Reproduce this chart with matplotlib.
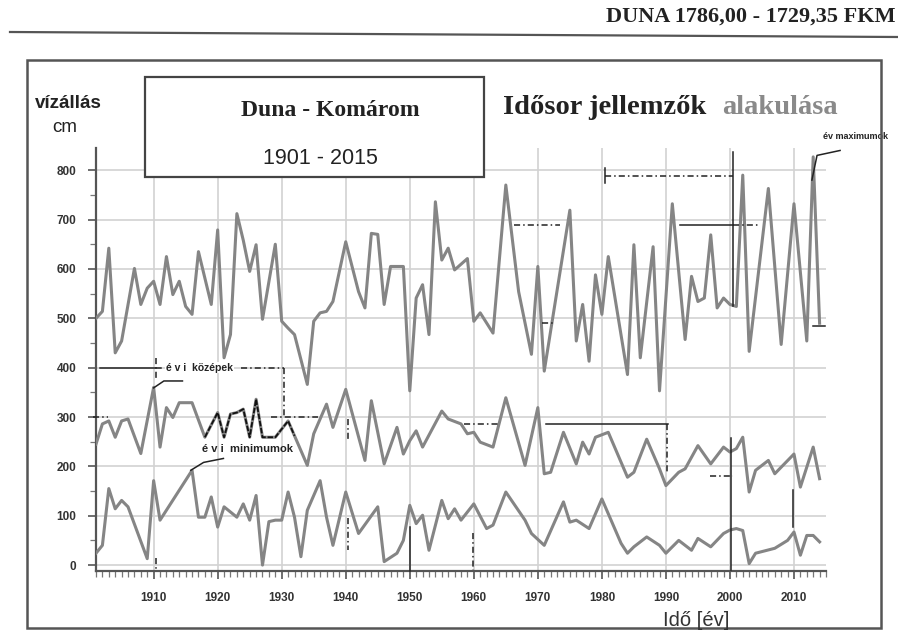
import matplotlib
matplotlib.use("Agg")
import matplotlib.pyplot as plt
from matplotlib.ticker import MultipleLocator
from matplotlib.lines import Line2D
from matplotlib.patches import Rectangle

# ---------------- data ----------------
max_years = [1901, 1902, 1903, 1904, 1905, 1907, 1908, 1909, 1910, 1911, 1912, 1913, 1914, 1915,
             1916, 1917, 1919, 1920, 1921, 1922, 1923, 1924, 1925, 1926, 1927, 1929, 1930, 1931,
             1932, 1934, 1935, 1936, 1937, 1938, 1940, 1942, 1943, 1944, 1945, 1946, 1947, 1949,
             1950, 1951, 1952, 1953, 1954, 1955, 1956, 1957, 1959, 1960, 1961, 1963, 1965, 1967,
             1969, 1970, 1971, 1975, 1976, 1977, 1978, 1979, 1980, 1981, 1984, 1985, 1986, 1988,
             1989, 1991, 1993, 1994, 1995, 1996, 1997, 1998, 1999, 2000, 2001, 2002, 2003, 2006,
             2008, 2010, 2012, 2013, 2014]
max_vals = [500, 514, 642, 430, 454, 601, 528, 561, 575, 528, 625, 548, 575, 524,
            508, 635, 528, 679, 420, 467, 712, 658, 595, 649, 498, 650, 494, 480,
            467, 366, 494, 511, 514, 534, 655, 554, 521, 672, 670, 528, 605, 605,
            353, 541, 568, 467, 736, 618, 642, 598, 621, 494, 511, 470, 770, 554,
            427, 605, 393, 719, 454, 528, 413, 588, 508, 625, 386, 649, 420, 645,
            353, 732, 457, 585, 534, 541, 669, 521, 541, 528, 524, 790, 433, 763,
            447, 732, 454, 827, 490]

mean_years = [1901, 1902, 1903, 1904, 1905, 1906, 1908, 1910, 1911, 1912, 1913, 1914, 1916, 1918,
              1920, 1921, 1922, 1923, 1924, 1925, 1926, 1927, 1929, 1931, 1932, 1934, 1935, 1937,
              1938, 1940, 1943, 1944, 1946, 1948, 1949, 1950, 1951, 1952, 1955, 1956, 1958, 1959,
              1960, 1961, 1963, 1965, 1968, 1970, 1971, 1972, 1974, 1976, 1977, 1978, 1979, 1981,
              1984, 1985, 1987, 1989, 1990, 1992, 1993, 1995, 1997, 1999, 2000, 2001, 2002, 2003,
              2004, 2006, 2007, 2010, 2011, 2013, 2014]
mean_vals = [245, 286, 292, 259, 292, 296, 226, 360, 239, 319, 299, 329, 329, 259,
             309, 259, 306, 309, 316, 259, 336, 259, 259, 292, 262, 202, 266, 326,
             279, 356, 212, 333, 205, 279, 225, 252, 272, 239, 312, 296, 286, 266,
             269, 249, 239, 339, 202, 319, 185, 188, 269, 205, 249, 225, 259, 269,
             178, 188, 255, 195, 161, 188, 195, 242, 205, 239, 229, 236, 259, 148,
             192, 212, 185, 225, 158, 239, 175]

min_years = [1901, 1902, 1903, 1904, 1905, 1906, 1909, 1910, 1911, 1916, 1917, 1918, 1919, 1920,
             1921, 1923, 1924, 1925, 1926, 1927, 1928, 1929, 1930, 1931, 1932, 1933, 1934, 1936,
             1937, 1938, 1940, 1942, 1945, 1946, 1948, 1949, 1950, 1951, 1952, 1953, 1955, 1956,
             1957, 1958, 1960, 1962, 1963, 1965, 1968, 1969, 1971, 1974, 1975, 1976, 1978, 1980,
             1983, 1984, 1985, 1987, 1989, 1990, 1992, 1994, 1995, 1997, 1999, 2000, 2001, 2002,
             2003, 2004, 2007, 2009, 2010, 2011, 2012, 2013, 2014]
min_vals = [24, 40, 155, 114, 131, 118, 13, 171, 91, 192, 97, 97, 138, 77,
            118, 97, 124, 91, 141, 0, 88, 91, 91, 148, 97, 17, 111, 171,
            97, 40, 148, 64, 118, 7, 24, 50, 121, 84, 101, 30, 131, 94,
            114, 91, 124, 74, 81, 148, 91, 64, 40, 128, 87, 91, 74, 134,
            44, 24, 37, 57, 40, 24, 50, 30, 54, 37, 64, 71, 74, 70,
            3, 24, 34, 50, 67, 20, 60, 60, 47]

x_ticks = [1910, 1920, 1930, 1940, 1950, 1960, 1970, 1980, 1990, 2000, 2010]
x_tick_labels = ["1910", "1920", "1930", "1940", "1950", "1960", "1970", "1980", "1990", "2000", "2010"]
y_ticks = [0, 100, 200, 300, 400, 500, 600, 700, 800]

# years where the mean curve is redrawn dark on the original
mean_dark_span = (1918, 1932)

# annotation guide lines drawn on the original (x in years, y in cm)
annot_solid = [
    ([1901.7, 1911.1], [400, 400]),
    ([1910, 1911.6, 1914.5], [359, 373, 373]),
    ([1915.8, 1917.8, 1920.9], [192, 208, 216]),
    ([2012.8, 2013.6, 2017.2], [780, 830, 840]),
    ([2000.5, 2000.5], [836, 524]),
    ([1992.2, 2000.5], [690, 690]),
    ([1971.2, 1990.3], [286, 286]),
    ([2000.2, 2000.2], [258, -10]),
    ([2009.8, 2009.8], [153, 78]),
    ([1950.1, 1950.1], [77, -12]),
    ([2013.0, 2014.9], [484, 484]),
    ([1980.5, 1980.5], [775, 805]),
]
annot_dashed = [
    ([1923.6, 1930.3], [400, 400]),
    ([1930.3, 1930.3], [400, 300]),
    ([1910.3, 1910.3], [420, 380]),
    ([1928.3, 1935.6], [300, 300]),
    ([1900.6, 1902.8], [300, 300]),
    ([1980.5, 2000.5], [789, 789]),
    ([1966.2, 1973.5], [690, 690]),
    ([2000.5, 2004.7], [690, 690]),
    ([1970.7, 1972.4], [490, 490]),
    ([1958.4, 1963.7], [286, 286]),
    ([1990.2, 1990.2], [286, 186]),
    ([1996.9, 2000.5], [181, 181]),
    ([1959.9, 1959.9], [65, -10]),
    ([1940.3, 1940.3], [95, 30]),
    ([1940.3, 1940.3], [296, 252]),
    ([1910.3, 1910.3], [15, -10]),
]

# ---------------- figure ----------------
W, H = 898, 633
fig = plt.figure(figsize=(W / 100, H / 100), dpi=100)
fig.patch.set_facecolor("white")

def fx(px):
    return px / W

def fy(py):
    return 1 - py / H

ax = fig.add_axes([fx(96), fy(571), fx(826) - fx(96), fy(148) - fy(571)])
ax.set_xlim(1901, 2015)
ax.set_ylim(-12, 845)

line_color = "#858585"
ax.plot(max_years, max_vals, color=line_color, lw=2.2, zorder=3)
ax.plot(mean_years, mean_vals, color=line_color, lw=2.2, zorder=3)
ax.plot(min_years, min_vals, color=line_color, lw=2.2, zorder=3)

dk = [(y, v) for y, v in zip(mean_years, mean_vals) if mean_dark_span[0] <= y <= mean_dark_span[1]]
ax.plot([p[0] for p in dk], [p[1] for p in dk], color="#111111", lw=1.3, ls=(0, (3, 1)), zorder=4)

for xs, ys in annot_solid:
    ax.plot(xs, ys, color="#222222", lw=1.1, zorder=4, clip_on=False)
for xs, ys in annot_dashed:
    ax.plot(xs, ys, color="#222222", lw=1.1, ls=(0, (4, 2, 1, 2)), zorder=4, clip_on=False)

ax.set_xticks(x_ticks)
ax.set_xticklabels(x_tick_labels)
ax.set_yticks(y_ticks)
ax.xaxis.set_minor_locator(MultipleLocator(1))
ax.yaxis.set_minor_locator(MultipleLocator(50))
ax.grid(True, which="major", color="#d2d2d2", lw=1.2, zorder=0)
for s in ["top", "right"]:
    ax.spines[s].set_visible(False)
for s in ["left", "bottom"]:
    ax.spines[s].set_color("#555555")
    ax.spines[s].set_linewidth(1.6)
ax.tick_params(axis="both", which="major", length=6, width=1.2, color="#555555",
               labelsize=8.5)
ax.tick_params(axis="both", which="minor", length=4, width=0.9, color="#777777")
for lab in ax.get_xticklabels() + ax.get_yticklabels():
    lab.set_fontfamily("Liberation Sans")
    lab.set_fontweight("bold")
    lab.set_color("#333333")
ax.tick_params(axis="x", pad=9)
ax.tick_params(axis="y", pad=8)

# annotation labels
ax.text(1911.9, 400, "é v i  középek", fontsize=7.5, fontweight="bold", family="Liberation Sans",
        va="center", ha="left", color="#222222", zorder=5,
        bbox=dict(facecolor="white", edgecolor="none", pad=0.5))
ax.text(1917.5, 236, "é v i  minimumok", fontsize=8, fontweight="bold", family="Liberation Sans",
        va="center", ha="left", color="#222222", zorder=5)
ax.text(2014.6, 868, "év maximumok", fontsize=6.5, fontweight="bold", family="Liberation Sans",
        va="center", ha="left", color="#222222", zorder=5, clip_on=False)

# ---------------- frames, titles ----------------
fig.add_artist(Line2D([fx(10), fx(898)], [fy(32), fy(37)], color="#555555", lw=1.6))
fig.add_artist(Rectangle((fx(27), fy(628)), fx(881) - fx(27), fy(60) - fy(628),
                         fill=False, edgecolor="#555555", lw=1.8))
fig.add_artist(Rectangle((fx(145), fy(177)), fx(484) - fx(145), fy(77) - fy(177),
                         facecolor="white", edgecolor="#444444", lw=1.6, zorder=5))

fig.text(fx(895), fy(17), "DUNA 1786,00 - 1729,35 FKM", ha="right", va="center",
         fontsize=16, fontweight="bold", family="Liberation Serif", color="#222222")
fig.text(fx(330), fy(110), "Duna - Komárom", ha="center", va="center",
         fontsize=17, fontweight="bold", family="Liberation Serif", color="#222222", zorder=6)
fig.text(fx(320), fy(158), "1901 - 2015", ha="center", va="center",
         fontsize=15.5, family="Liberation Sans", color="#222222", zorder=6)
fig.text(fx(503), fy(108), "Idősor jellemzők", ha="left", va="center",
         fontsize=20.5, fontweight="bold", family="Liberation Serif", color="#222222")
fig.text(fx(722), fy(108), "alakulása", ha="left", va="center",
         fontsize=20.5, fontweight="bold", family="Liberation Serif", color="#8a8a8a")
fig.text(fx(35), fy(103), "vízállás", ha="left", va="center",
         fontsize=13.5, fontweight="bold", family="Liberation Sans", color="#222222")
fig.text(fx(52), fy(128), "cm", ha="left", va="center",
         fontsize=13.5, family="Liberation Sans", color="#222222")
fig.text(fx(696), fy(621), "Idő [év]", ha="center", va="center",
         fontsize=14.5, family="Liberation Sans", color="#333333")

fig.savefig("out.png", dpi=100, facecolor="white")
